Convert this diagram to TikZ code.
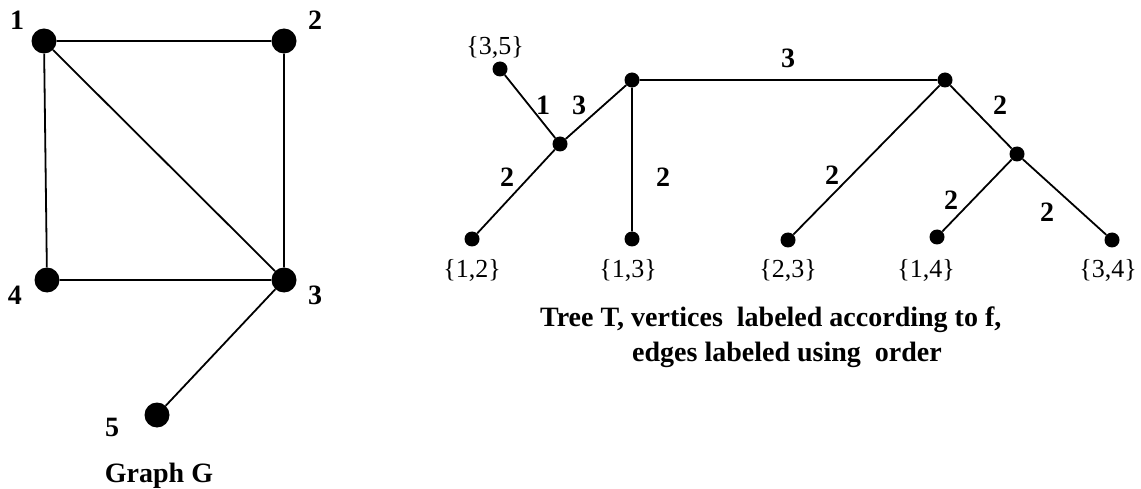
\documentclass[tikz,border=0pt]{standalone}
\usepackage{fontspec}
\setmainfont{Liberation Serif}
\begin{document}
\begin{tikzpicture}[x=1pt,y=-1pt,
  big/.style={circle,fill=black,inner sep=0pt,minimum size=25pt},
  dot/.style={circle,fill=black,inner sep=0pt,minimum size=15pt},
  edge/.style={line width=1.8pt},
  lab/.style={font=\fontsize{28}{32}\selectfont\bfseries,inner sep=0pt},
  set/.style={font=\fontsize{26}{30}\selectfont,inner sep=0pt},
  tlab/.style={font=\fontsize{28}{32}\selectfont\bfseries,inner sep=0pt}]
\useasboundingbox (0,0) rectangle (1141,489);
% Graph G
\node[big] (g1) at (44,41) {};
\node[big] (g2) at (284,41) {};
\node[big] (g3) at (284,280) {};
\node[big] (g4) at (47,280) {};
\node[big] (g5) at (157,415) {};
\draw[edge] (g1) -- (g2) (g2) -- (g3) (g1) -- (g3) (g1) -- (g4) (g4) -- (g3) (g3) -- (g5);
\node[lab] (l1) at (17,20) {1};
\node[lab] (l2) at (315,20) {2};
\node[lab] (l3) at (315,295) {3};
\node[lab] (l4) at (15,295) {4};
\node[lab] (l5) at (112,427) {5};
\node[tlab] (gG) at (159,476) {Graph G};
% Tree T
\node[dot] (t35) at (500,69) {};
\node[dot] (a) at (560,144) {};
\node[dot] (b) at (632,80) {};
\node[dot] (c) at (945,80) {};
\node[dot] (d) at (1017,154) {};
\node[dot] (t12) at (472,239) {};
\node[dot] (t13) at (632,239) {};
\node[dot] (t23) at (788,240) {};
\node[dot] (t14) at (937,237) {};
\node[dot] (t34) at (1112,240) {};
\draw[edge] (t35) -- (a) (a) -- (b) (a) -- (t12) (b) -- (t13) (b) -- (c)
  (c) -- (t23) (c) -- (d) (d) -- (t14) (d) -- (t34);
\node[set] (s35) at (495,47) {\{3,5\}};
\node[set] (s12) at (472,270) {\{1,2\}};
\node[set] (s13) at (628,270) {\{1,3\}};
\node[set] (s23) at (788,270) {\{2,3\}};
\node[set] (s14) at (926,270) {\{1,4\}};
\node[set] (s34) at (1108,270) {\{3,4\}};
\node[lab] (e1) at (543,105) {1};
\node[lab] (e2) at (579,105) {3};
\node[lab] (e3) at (507,177) {2};
\node[lab] (e4) at (663,177) {2};
\node[lab] (e5) at (788,58) {3};
\node[lab] (e6) at (1000,105) {2};
\node[lab] (e7) at (832,175) {2};
\node[lab] (e8) at (951,200) {2};
\node[lab] (e9) at (1047,212) {2};
\node[tlab,anchor=west] (tt1) at (540,320) {Tree T, vertices\ \ labeled according to f,};
\node[tlab,anchor=west] (tt2) at (632,355) {edges labeled using\ \ order};
\end{tikzpicture}
\end{document}
